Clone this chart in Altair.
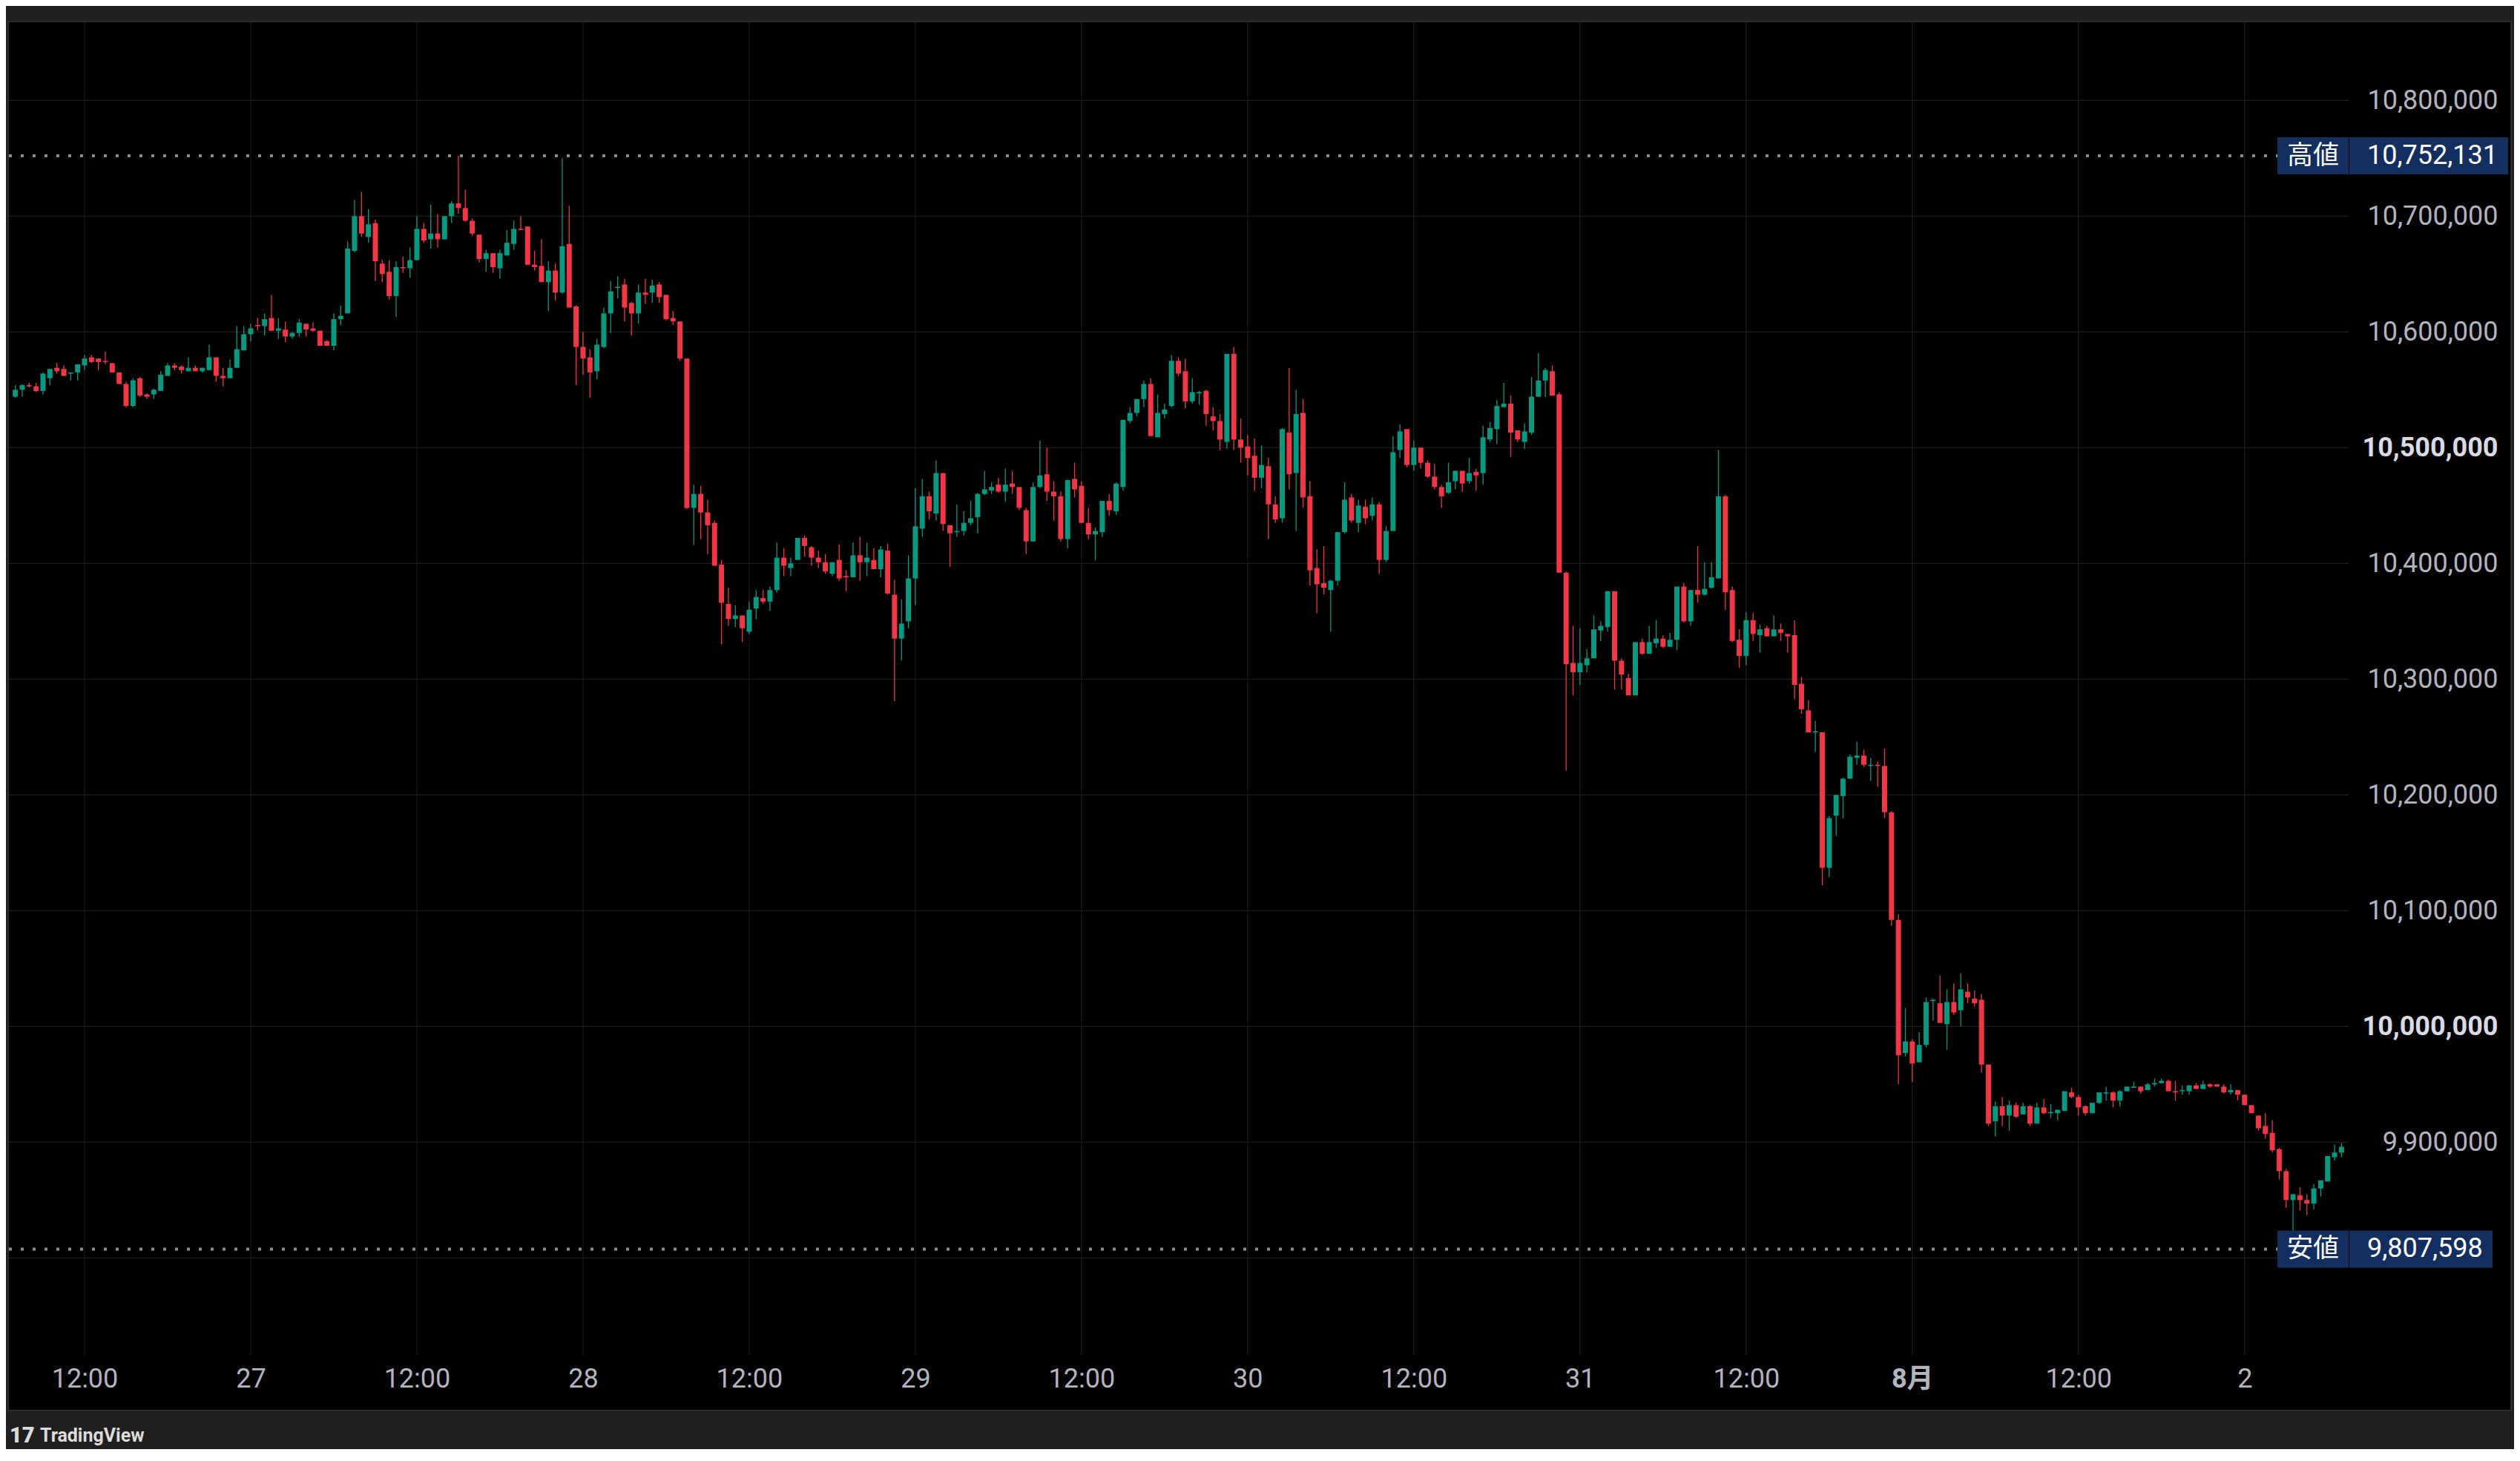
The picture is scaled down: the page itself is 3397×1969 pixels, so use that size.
import json
import pandas as pd
import altair as alt

# ---------------- data (prices in thousand JPY, 30-minute candles) ----------------
open_k = [
    # Jul 26 07:00 - 23:30
    10544,10550,10554,10553,10549,10560,10569,10568,10564,10565,
    10571,10578,10577,10575,10573,10565,10555,10536,10560,10546,
    10546,10549,10562,10571,10570,10566,10569,10566,10567,10578,
    10562,10560,10569,10584,
    # Jul 27
    10598,10606,10605,10612,10601,10602,10596,10599,10607,10603,
    10601,10592,10588,10611,10616,10670,10700,10682,10694,10659,
    10652,10631,10656,10655,10662,10689,10680,10685,10680,10700,
    10711,10707,10696,10684,10663,10668,10655,10666,10676,10689,
    10691,10658,10657,10643,10653,10634,10676,10622,
    # Jul 28
    10587,10578,10566,10587,10616,10638,10641,10625,10616,10634,
    10634,10641,10632,10612,10609,10577,10448,10460,10444,10435,
    10399,10365,10352,10355,10341,10361,10370,10367,10377,10405,
    10396,10403,10422,10414,10405,10401,10391,10403,10389,10388,
    10407,10401,10403,10395,10411,10373,10335,10350,
    # Jul 29
    10387,10430,10458,10443,10478,10433,10427,10428,10435,10440,
    10460,10463,10468,10462,10469,10466,10446,10419,10466,10477,
    10462,10458,10421,10473,10467,10435,10425,10427,10454,10445,
    10466,10523,10530,10542,10555,10509,10529,10536,10575,10566,
    10540,10547,10549,10527,10523,10505,10581,10507,
    # Jul 30
    10501,10493,10474,10484,10451,10439,10513,10478,10530,10458,
    10396,10383,10377,10385,10427,10457,10435,10449,10441,10451,
    10403,10428,10498,10516,10485,10500,10487,10475,10466,10461,
    10471,10480,10471,10479,10478,10507,10516,10535,10538,10515,
    10505,10513,10544,10558,10566,10546,10392,10314,
    # Jul 31
    10306,10312,10318,10342,10345,10376,10316,10301,10286,10332,
    10322,10331,10335,10328,10334,10380,10350,10377,10373,10379,
    10387,10458,10377,10334,10320,10351,10338,10344,10337,10343,
    10339,10338,10296,10273,10254,10254,10137,10182,10199,10214,
    10232,10234,10225,10226,10225,10185,10092,9977,
    # Aug 1
    9987,9969,9984,10022,10020,10002,10021,10014,10030,10024,
    10023,9967,9918,9931,9923,9932,9924,9931,9916,9930,
    9925,9925,9927,9943,9939,9931,9925,9934,9942,9943,
    9936,9944,9947,9948,9945,9950,9951,9953,9944,9944,
    9944,9949,9946,9950,9950,9948,9943,9945,
    # Aug 2 00:00 - 07:00
    9941,9932,9923,9914,9908,9894,9875,9850,9854,9850,
    9847,9860,9866,9887,9891,
]

high_k = [
    10554,10555,10556,10556,10565,10568,10573,10571,10565,10572,
    10580,10580,10577,10583,10573,10565,10557,10560,10561,10547,
    10551,10566,10573,10573,10571,10578,10571,10569,10589,10578,
    10569,10576,10605,10605,
    10607,10612,10616,10632,10612,10609,10600,10611,10607,10608,
    10601,10593,10616,10623,10678,10714,10721,10706,10697,10662,
    10662,10661,10665,10673,10700,10694,10710,10702,10700,10713,
    10752.131,10723,10698,10684,10671,10668,10671,10688,10696,10700,
    10691,10670,10680,10661,10659,10750,10709,10623,
    10600,10585,10594,10621,10644,10648,10646,10626,10641,10646,
    10645,10643,10632,10618,10609,10577,10468,10467,10455,10437,
    10403,10379,10364,10355,10367,10377,10377,10380,10418,10413,
    10405,10422,10424,10415,10411,10408,10401,10416,10394,10418,
    10423,10418,10413,10415,10417,10386,10369,10407,
    10465,10473,10462,10489,10478,10433,10451,10445,10454,10461,
    10480,10470,10474,10482,10480,10466,10448,10470,10506,10500,
    10471,10462,10472,10487,10471,10448,10431,10454,10460,10470,
    10524,10535,10542,10558,10560,10546,10538,10580,10578,10577,
    10560,10549,10550,10535,10529,10581,10587,10525,
    10511,10508,10502,10491,10458,10517,10569,10550,10542,10471,
    10412,10415,10386,10427,10470,10460,10455,10455,10457,10453,
    10432,10510,10520,10516,10506,10500,10489,10486,10468,10487,
    10480,10480,10491,10482,10519,10522,10541,10556,10545,10515,
    10521,10561,10582,10569,10571,10548,10393,10346,
    10344,10326,10355,10350,10376,10376,10318,10305,10332,10335,
    10346,10351,10338,10340,10380,10383,10377,10415,10401,10401,
    10498,10459,10380,10343,10358,10357,10347,10346,10355,10348,
    10339,10351,10302,10282,10264,10254,10182,10200,10215,10235,
    10246,10239,10232,10229,10240,10186,10097,10016,
    9989,9995,10025,10024,10044,10032,10037,10046,10037,10031,
    10028,9967,9935,9939,9936,9934,9934,9932,9934,9937,
    9933,9928,9944,9947,9941,9932,9934,9943,9948,9944,
    9945,9948,9952,9948,9951,9955,9955,9954,9953,9949,
    9949,9951,9953,9951,9950,9950,9950,9945,
    9941,9932,9923,9925,9919,9895,9877,9855,9861,9855,
    9864,9867,9888,9898,9899,
]

low_k = [
    10543,10544,10552,10548,10546,10554,10564,10562,10558,10558,
    10567,10573,10567,10572,10565,10555,10535,10535,10544,10542,
    10542,10549,10562,10567,10564,10566,10566,10565,10567,10557,
    10553,10560,10569,10584,
    10592,10601,10597,10601,10594,10591,10594,10596,10596,10600,
    10588,10588,10584,10606,10616,10669,10682,10677,10644,10643,
    10628,10613,10651,10647,10662,10677,10672,10673,10680,10694,
    10702,10695,10683,10660,10652,10651,10646,10666,10671,10688,
    10658,10653,10643,10618,10627,10633,10621,10554,
    10563,10543,10559,10586,10599,10629,10609,10597,10607,10624,
    10625,10625,10610,10606,10575,10447,10416,10421,10408,10398,
    10330,10346,10345,10332,10339,10352,10365,10359,10375,10389,
    10389,10403,10406,10398,10396,10391,10389,10385,10376,10388,
    10385,10389,10395,10388,10373,10281,10316,10344,
    10364,10423,10438,10437,10428,10397,10423,10424,10433,10426,
    10459,10460,10461,10453,10460,10446,10408,10419,10465,10454,
    10437,10419,10413,10457,10435,10421,10403,10423,10441,10442,
    10463,10521,10527,10535,10510,10509,10525,10535,10562,10534,
    10538,10537,10519,10515,10498,10499,10498,10487,
    10476,10463,10465,10421,10435,10435,10464,10428,10448,10381,
    10357,10373,10341,10381,10426,10435,10427,10434,10437,10391,
    10401,10428,10491,10483,10480,10482,10474,10464,10448,10460,
    10464,10462,10469,10463,10468,10505,10503,10535,10492,10505,
    10499,10511,10544,10544,10545,10392,10221,10286,
    10295,10306,10318,10333,10341,10291,10291,10286,10286,10321,
    10322,10327,10327,10328,10325,10349,10346,10366,10372,10378,
    10387,10360,10332,10310,10312,10333,10323,10337,10337,10333,
    10323,10283,10270,10254,10237,10122,10129,10165,10180,10214,
    10226,10224,10212,10207,10180,10087,9950,9974,
    9952,9969,9982,10005,10003,9980,10010,10000,10020,10017,
    9960,9914,9905,9914,9910,9921,9924,9914,9916,9924,
    9921,9919,9927,9938,9923,9923,9925,9933,9936,9930,
    9931,9944,9947,9942,9945,9948,9951,9944,9936,9941,
    9941,9946,9946,9947,9948,9942,9941,9936,
    9932,9925,9910,9903,9891,9868,9843,9807.598,9841,9837,
    9842,9853,9866,9884,9887,
]

close_k = [
    10550,10554,10553,10549,10564,10568,10566,10562,10565,10572,
    10577,10574,10574,10574,10565,10555,10536,10558,10545,10544,
    10550,10563,10571,10569,10567,10569,10566,10569,10578,10562,
    10560,10569,10585,10598,
    10603,10605,10611,10601,10603,10596,10599,10608,10602,10601,
    10588,10588,10611,10614,10672,10700,10685,10693,10661,10650,
    10631,10656,10655,10662,10689,10679,10685,10680,10700,10711,
    10707,10696,10685,10663,10668,10656,10668,10677,10689,10688,
    10658,10656,10643,10653,10634,10674,10621,10587,
    10577,10565,10589,10616,10635,10639,10621,10616,10634,10632,
    10640,10630,10611,10609,10577,10448,10460,10444,10433,10398,
    10366,10352,10355,10344,10360,10371,10367,10377,10405,10398,
    10400,10422,10415,10405,10401,10393,10401,10387,10388,10407,
    10401,10405,10395,10412,10374,10335,10348,10387,
    10432,10458,10445,10478,10434,10426,10428,10435,10439,10460,
    10464,10466,10462,10468,10466,10448,10419,10466,10476,10462,
    10458,10421,10472,10464,10435,10425,10428,10454,10446,10469,
    10524,10530,10542,10555,10510,10530,10533,10575,10564,10540,
    10548,10548,10529,10523,10507,10581,10507,10500,
    10491,10474,10485,10451,10438,10516,10477,10529,10457,10394,
    10382,10379,10385,10427,10455,10437,10450,10439,10451,10403,
    10428,10496,10514,10485,10500,10487,10475,10466,10458,10470,
    10480,10469,10478,10476,10509,10517,10536,10538,10513,10507,
    10514,10544,10558,10567,10545,10392,10313,10306,
    10314,10318,10343,10346,10376,10316,10304,10286,10332,10322,
    10332,10335,10328,10334,10380,10350,10377,10373,10378,10388,
    10458,10375,10333,10320,10351,10339,10343,10337,10343,10340,
    10337,10295,10274,10254,10255,10137,10180,10200,10214,10233,
    10234,10226,10226,10225,10185,10092,9975,9987,
    9968,9984,10021,10023,10003,10021,10012,10032,10025,10020,
    9967,9916,9931,9923,9932,9922,9931,9916,9930,9925,
    9926,9928,9944,9939,9930,9925,9934,9943,9943,9936,
    9944,9948,9948,9944,9950,9951,9953,9944,9943,9945,
    9949,9946,9950,9948,9948,9943,9945,9941,
    9932,9925,9912,9907,9893,9875,9850,9855,9850,9847,
    9860,9867,9888,9891,9896,
]

first_candle = "2024-07-26 07:00"

x_tick_times = [
    "2024-07-26 12:00", "2024-07-27 00:00", "2024-07-27 12:00", "2024-07-28 00:00",
    "2024-07-28 12:00", "2024-07-29 00:00", "2024-07-29 12:00", "2024-07-30 00:00",
    "2024-07-30 12:00", "2024-07-31 00:00", "2024-07-31 12:00", "2024-08-01 00:00",
    "2024-08-01 12:00", "2024-08-02 00:00",
]
x_tick_labels = ["12:00", "27", "12:00", "28", "12:00", "29", "12:00", "30",
                 "12:00", "31", "12:00", "8月", "12:00", "2"]
x_bold_label = "2024-08-01 00:00"
x_domain_times = ["2024-07-26 06:48:12", "2024-08-02 07:14:48"]

y_ticks = [9800000, 9900000, 10000000, 10100000, 10200000, 10300000,
           10400000, 10500000, 10600000, 10700000, 10800000]
y_bold = [10000000, 10500000]
y_domain = [9716218, 10867500]

marker_names = ["高値", "安値"]
logo_mark = "17"
logo_text = "TradingView"

# ---------------- build tables ----------------
def ms(s):
    return int(pd.Timestamp(s, tz="UTC").value // 10**6)

times = pd.date_range(first_candle, periods=len(open_k), freq="30min", tz="UTC")
candles = pd.DataFrame({
    "t": [int(v) for v in (times.asi8 // 10**6)],
    "open": [v * 1000 for v in open_k],
    "high": [v * 1000 for v in high_k],
    "low": [v * 1000 for v in low_k],
    "close": [v * 1000 for v in close_k],
})

hi_val = int(round(max(high_k) * 1000))
lo_val = int(round(min(low_k) * 1000))
marks = pd.DataFrame({"name": marker_names, "price": [hi_val, lo_val], "kind": ["high", "low"]})
one = pd.DataFrame({"k": [0]})

x_tick_ms = [ms(s) for s in x_tick_times]
x_dom = [ms(s) for s in x_domain_times]
hgrid = pd.DataFrame({"v": y_ticks})
vgrid = pd.DataFrame({"t": x_tick_ms})

W, H = 3154, 1796
GREEN = "#089981"
RED = "#F23645"
GRID = "#1c1c1c"
LABEL = "#b2b5be"
BOX = "#132f60"
FRAME = "#1f1f1f"
FONT = "Roboto"

x_axis = alt.Axis(
    values=x_tick_ms, title=None, grid=False, zindex=1,
    domain=False, ticks=False, tickSize=0, labelPadding=32, labelBaseline="middle",
    labelFont="Roboto, Noto Sans CJK JP", labelFontSize=36, labelColor=LABEL,
    labelOverlap=False, labelFlush=False, labelLimit=500,
    labelExpr=f'{json.dumps(x_tick_labels, ensure_ascii=False)}[indexof({json.dumps(x_tick_ms)}, datum.value)]',
    labelFontWeight={"condition": {"test": f"datum.value == {ms(x_bold_label)}", "value": "bold"},
                     "value": "normal"},
)
bold_test = " || ".join(f"datum.value == {v}" for v in y_bold)
y_axis = alt.Axis(
    orient="right", values=y_ticks, title=None, format=",d", grid=False, zindex=1,
    domain=False, ticks=False, tickSize=0, labelAlign="right", labelLimit=500,
    labelPadding=201, labelBaseline="middle", labelFont=FONT, labelFontSize=36,
    labelOverlap=False, labelExpr="datum.value < 9850000 ? '' : datum.label",
    labelColor={"condition": {"test": bold_test, "value": "#d8dbe2"}, "value": LABEL},
    labelFontWeight={"condition": {"test": bold_test, "value": "bold"}, "value": "normal"},
)
x_scale = alt.Scale(domain=x_dom, nice=False, zero=False)
y_scale = alt.Scale(domain=y_domain, nice=False, zero=False)

X = alt.X("t:Q", scale=x_scale, axis=x_axis)
def Yf(field):
    return alt.Y(f"{field}:Q", scale=y_scale, axis=y_axis)

color = alt.condition("datum.close >= datum.open", alt.value(GREEN), alt.value(RED))

# black chart panel (plot + price scale + time scale) with a faint border
panel = alt.Chart(one).mark_rect(color="#000000", stroke="#2c2c2c", strokeWidth=2).encode(
    x=alt.value(-1), x2=alt.value(3373), y=alt.value(-1), y2=alt.value(1871))

grid_h = alt.Chart(hgrid).mark_rule(color=GRID, strokeWidth=1.2).encode(
    y=Yf("v"), x=alt.value(0), x2=alt.value(W))
grid_v = alt.Chart(vgrid).mark_rule(color=GRID, strokeWidth=1.2).encode(
    x=X, y=alt.value(0), y2=alt.value(H))

wicks = alt.Chart(candles).mark_rule(strokeWidth=1.3).encode(
    x=X, y=Yf("low"), y2="high:Q", color=color)
bodies = alt.Chart(candles).mark_bar(size=7, stroke=None).encode(
    x=X, y=Yf("open"), y2="close:Q", color=color)

dotted = alt.Chart(marks).mark_rule(strokeDash=[4, 12], strokeWidth=4, color="#8c8c8c").encode(
    y=Yf("price"), x=alt.value(0), x2=alt.value(3058))
name_box = alt.Chart(marks).mark_rule(strokeWidth=50, color=BOX, strokeCap="butt").encode(
    y=Yf("price"), x=alt.value(3058), x2=alt.value(3154))
val_box_hi = alt.Chart(marks).transform_filter("datum.kind == 'high'").mark_rule(
    strokeWidth=50, color=BOX, strokeCap="butt").encode(
    y=Yf("price"), x=alt.value(3155), x2=alt.value(3369))
val_box_lo = alt.Chart(marks).transform_filter("datum.kind == 'low'").mark_rule(
    strokeWidth=50, color=BOX, strokeCap="butt").encode(
    y=Yf("price"), x=alt.value(3155), x2=alt.value(3348))
name_txt = alt.Chart(marks).mark_text(
    align="center", baseline="middle", font="Noto Sans CJK JP", fontSize=35, color="#ffffff").encode(
    y=Yf("price"), x=alt.value(3106), text="name:N")
val_txt = alt.Chart(marks).mark_text(
    align="left", baseline="middle", font=FONT, fontSize=36, color="#ffffff", limit=500).encode(
    y=Yf("price"), x=alt.value(3179), text=alt.Text("price:Q", format=",d"))

logo1 = alt.Chart(one).mark_text(
    align="left", baseline="middle", font=FONT, fontSize=29, fontWeight=900, color="#dcdcdc",
    text=logo_mark).encode(x=alt.value(1), y=alt.value(1905))
logo2 = alt.Chart(one).mark_text(
    align="left", baseline="middle", font=FONT, fontSize=25, fontWeight="bold", color="#dcdcdc",
    text=logo_text).encode(x=alt.value(42), y=alt.value(1905))

chart = alt.layer(
    panel, grid_h, grid_v, wicks, bodies, dotted, name_box, val_box_hi, val_box_lo,
    name_txt, val_txt, logo1, logo2,
).properties(
    width=W, height=H,
    padding={"left": 4, "top": 22, "right": 223, "bottom": 127},
    autosize=alt.AutoSizeParams(type="none"),
    background=FRAME,
).configure_view(stroke=None)

chart.save("out.html", embed_options={"renderer": "svg", "actions": False})
